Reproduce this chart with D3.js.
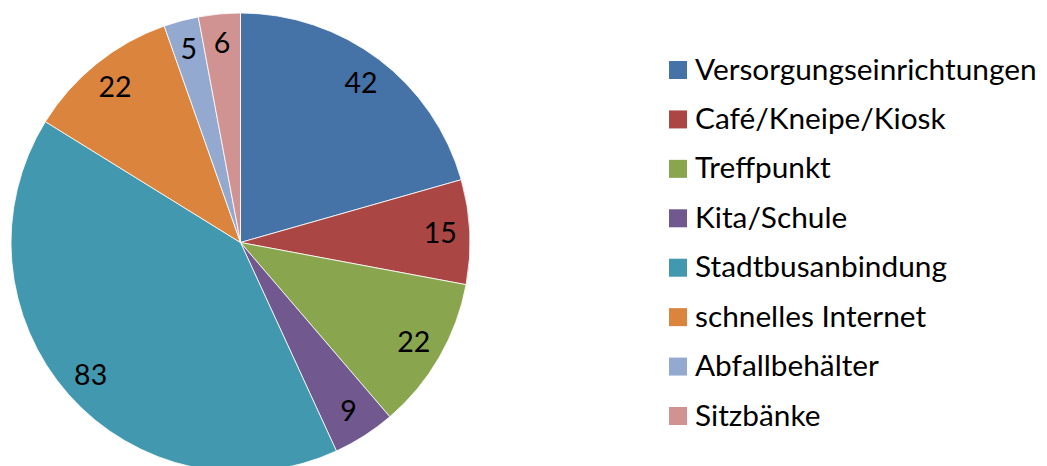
<!DOCTYPE html>
<html><head><meta charset="utf-8">
<script src="https://cdn.jsdelivr.net/npm/d3@7"></script>
<style>html,body{margin:0;padding:0;background:#fff;}svg{display:block;}</style>
</head><body>
<svg id="chart" width="1047" height="466"></svg>
<script>
const categories = ["Versorgungseinrichtungen","Café/Kneipe/Kiosk","Treffpunkt","Kita/Schule","Stadtbusanbindung","schnelles Internet","Abfallbehälter","Sitzbänke"];
const values = [42,15,22,9,83,22,5,6];
const colors = ["#4572A7","#AA4643","#89A54E","#71588F","#4198AF","#DB843D","#93A9CF","#D19392"];

const svg = d3.select("#chart");
const font = "Lato, 'Open Sans', sans-serif";
const cx = 240.5, cy = 242.5, r = 229.5, labelR = 200;

const pie = d3.pie().sort(null).value(d => d);
const arcs = pie(values);
const arc = d3.arc().innerRadius(0).outerRadius(r);
const labelArc = d3.arc().innerRadius(labelR).outerRadius(labelR);

const g = svg.append("g").attr("transform", `translate(${cx},${cy})`);
g.selectAll("path").data(arcs).join("path")
  .attr("d", arc)
  .attr("fill", (d,i) => colors[i])
  .attr("stroke", "#fff").attr("stroke-width", 0.8);

g.selectAll("text").data(arcs).join("text")
  .attr("transform", d => `translate(${labelArc.centroid(d)})`)
  .attr("text-anchor", "middle").attr("dy", "0.35em")
  .attr("font-family", font).attr("font-size", 28.5).attr("fill", "#000")
  .text(d => d.data);

const lg = svg.append("g");
const rowY = d3.scalePoint().domain(categories).range([61, 407]);
const items = lg.selectAll("g").data(categories).join("g")
  .attr("transform", d => `translate(669,${rowY(d)})`);
items.append("rect").attr("width", 18).attr("height", 18)
  .attr("fill", (d,i) => colors[i]);
items.append("text").attr("x", 26).attr("y", 18.5)
  .attr("font-family", font).attr("font-size", 29.8).attr("fill", "#000")
  .text(d => d);
</script>
</body></html>
